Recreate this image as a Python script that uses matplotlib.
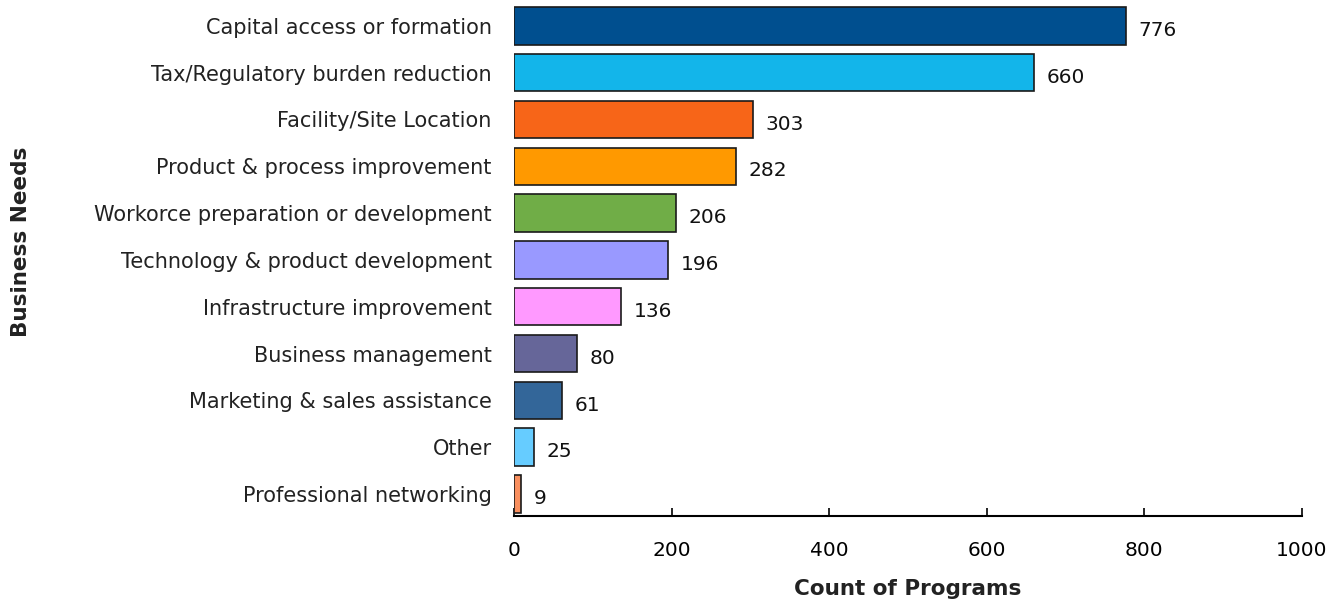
import matplotlib
matplotlib.use("Agg")
import matplotlib.pyplot as plt

plt.rcParams["font.family"] = ["DejaVu Sans"]

categories = [
    "Capital access or formation",
    "Tax/Regulatory burden reduction",
    "Facility/Site Location",
    "Product & process improvement",
    "Workorce preparation or development",
    "Technology & product development",
    "Infrastructure improvement",
    "Business management",
    "Marketing & sales assistance",
    "Other",
    "Professional networking",
]
counts = [776, 660, 303, 282, 206, 196, 136, 80, 61, 25, 9]
colors = ["#004F8F", "#13B5EA", "#F76518", "#FF9900", "#70AD47", "#9999FF",
          "#FF99FF", "#666699", "#336699", "#66CCFF", "#F98F5E"]

fig = plt.figure(figsize=(13.43, 6.04), dpi=100)
ax = fig.add_axes([0.3827, 0.1457, 0.5868, 0.848])

y = list(range(len(categories)))
ax.barh(y, counts, height=0.8, color=colors, edgecolor="#1a1a1a", linewidth=1.2, zorder=3)
for yi, v in zip(y, counts):
    ax.text(v + 16, yi + 0.1, f"{v}", va="center", ha="left", fontsize=14.5, color="#111")

ax.set_yticks(y)
ax.set_yticklabels(categories, fontsize=15, color="#222")
ax.set_ylim(len(categories) - 0.53, -0.47)
ax.set_xlim(0, 1000)
ax.set_xticks([0, 200, 400, 600, 800, 1000])
ax.tick_params(axis="x", direction="in", length=6, width=1.2, labelsize=14.5, pad=18)
ax.tick_params(axis="y", length=0, pad=16)

for s in ["top", "right", "left"]:
    ax.spines[s].set_visible(False)
ax.spines["bottom"].set_linewidth(1.5)

ax.set_xlabel("Count of Programs", fontsize=15.5, fontweight="bold", color="#222", labelpad=14)
fig.text(0.016, 0.6, "Business Needs", rotation=90, fontsize=15.5, fontweight="bold",
         color="#222", ha="center", va="center")

fig.savefig("out.png", dpi=100)
